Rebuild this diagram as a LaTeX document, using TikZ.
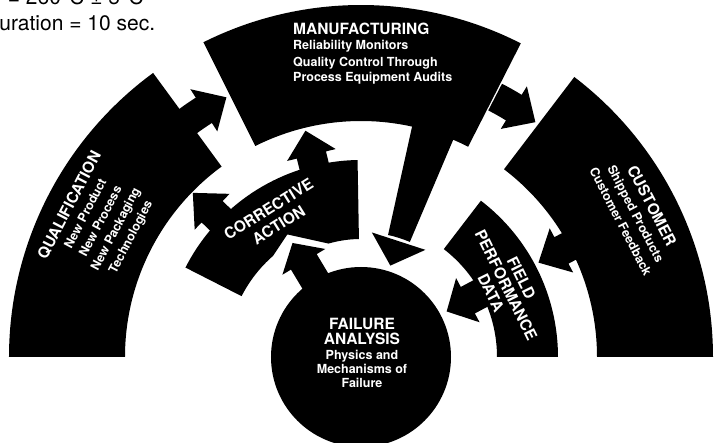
\documentclass[tikz,border=0pt]{standalone}
\usepackage{fontspec}
\setmainfont{TeX Gyre Heros}
\tikzset{
  bigtext/.style={text=white, inner sep=0pt, align=center, font=\bfseries\fontsize{15.5}{17}\selectfont},
  smalltext/.style={text=white, inner sep=0pt, align=center, font=\bfseries\fontsize{12.5}{17}\selectfont},
}
\newcommand{\bigfnt}{\fontsize{15.5}{17}\selectfont}

\begin{document}
\begin{tikzpicture}[x=1pt,y=1pt]
\def\Rin{236}  \def\Rout{352}  % outer ring
\def\rin{136}  \def\rout{197}  % inner ring
\def\Rfa{90}                   % failure analysis disc
\def\Rmid{292.5}               % path of the ring arrows
\def\sw{15}  \def\hw{25}       % stem and head half widths

\useasboundingbox (-361,-86) rectangle (356,357);

% ring segments
\foreach \a/\b/\ri/\ro in {126.2/180/\Rin/\Rout, 63/116.6/\Rin/\Rout, 0/52.7/\Rin/\Rout,
                           0/52.5/\rin/\rout}
  \fill (\a:\ri) arc[start angle=\a, end angle=\b, radius=\ri] -- (\b:\ro)
        arc[start angle=\b, end angle=\a, radius=\ro] -- cycle;
% corrective action, notched below for the incoming arrow
\fill (91:\rout) arc[start angle=91, end angle=153, radius=\rout] -- (153:134)
      arc[start angle=153, end angle=131, radius=134] -- (121:143) -- (106:118)
      arc[start angle=106, end angle=91, radius=118] -- cycle;
\fill (0,0) circle[radius=\Rfa];

% arrows running along the outer ring
\foreach \a/\b/\c in {126.5/122.5/117.4, 62.7/58.5/53.4}
  \fill (\a:{\Rmid-\sw}) arc[start angle=\a, end angle=\b, radius=\Rmid-\sw]
        -- (\b:{\Rmid-\hw}) -- (\c:\Rmid) -- (\b:{\Rmid+\hw}) -- (\b:{\Rmid+\sw})
        arc[start angle=\b, end angle=\a, radius=\Rmid+\sw] -- cycle;

% radial arrows: angle / foot / head base / tip
\foreach \a/\ra/\rb/\rc in {103.8/190/208/233, 135.7/190/208/235, 121/80/111/133,
                            28/240/227/201, 28/140/121/97}
  \fill[rotate=\a] (\ra,-\sw) -- (\rb,-\sw) -- (\rb,-\hw) -- (\rc,0) -- (\rb,\hw)
        -- (\rb,\sw) -- (\ra,\sw) -- cycle;

% wide arrow down from manufacturing
\fill (67:125) arc[start angle=67, end angle=77.5, radius=125] -- (77.5:240)
      arc[start angle=77.5, end angle=67, radius=240] -- cycle;
\fill (59:125) -- (72.2:96) -- (85:125) -- cycle;

% labels
\node[bigtext, anchor=base west] (mfg) at (-68,322) {MANUFACTURING};
\node[smalltext, anchor=base west] (mfgA) at (-68,307) {Reliability Monitors};
\node[smalltext, anchor=base west] (mfgB) at (-68,290) {Quality Control Through};
\node[smalltext, anchor=base west] (mfgC) at (-68,275) {Process Equipment Audits};

\node[smalltext, rotate=62.5] (qual) at (152.5:294)
  {{\bigfnt QUALIFICATION}\\New Product\\New Process\\New Packaging\\Technologies};
\node[smalltext, rotate=-62.5] (cust) at (27.5:311)
  {{\bigfnt CUSTOMER}\\Shipped Products\\Customer Feedback};
\node[bigtext, rotate=32] (corr) at (122:165) {CORRECTIVE\\[2pt]ACTION};
\node[bigtext, rotate=-63.7] (field) at (26.3:162) {FIELD\\PERFORMANCE\\DATA};

\node[bigtext, anchor=base] (fail) at (1,27) {FAILURE};
\node[bigtext, anchor=base] (anal) at (1,12) {ANALYSIS};
\node[smalltext, anchor=base] (phys) at (1,-3) {Physics and};
\node[smalltext, anchor=base] (mech) at (1,-17) {Mechanisms of};
\node[smalltext, anchor=base] (failB) at (1,-31) {Failure};

\node[anchor=base west, inner sep=0pt, font=\fontsize{21}{25}\selectfont] (temp) at (-372,352) {T = 260°C ± 5°C};
\node[anchor=base west, inner sep=0pt, font=\fontsize{21}{25}\selectfont] (dur) at (-377,326) {Duration = 10 sec.};
\end{tikzpicture}
\end{document}
